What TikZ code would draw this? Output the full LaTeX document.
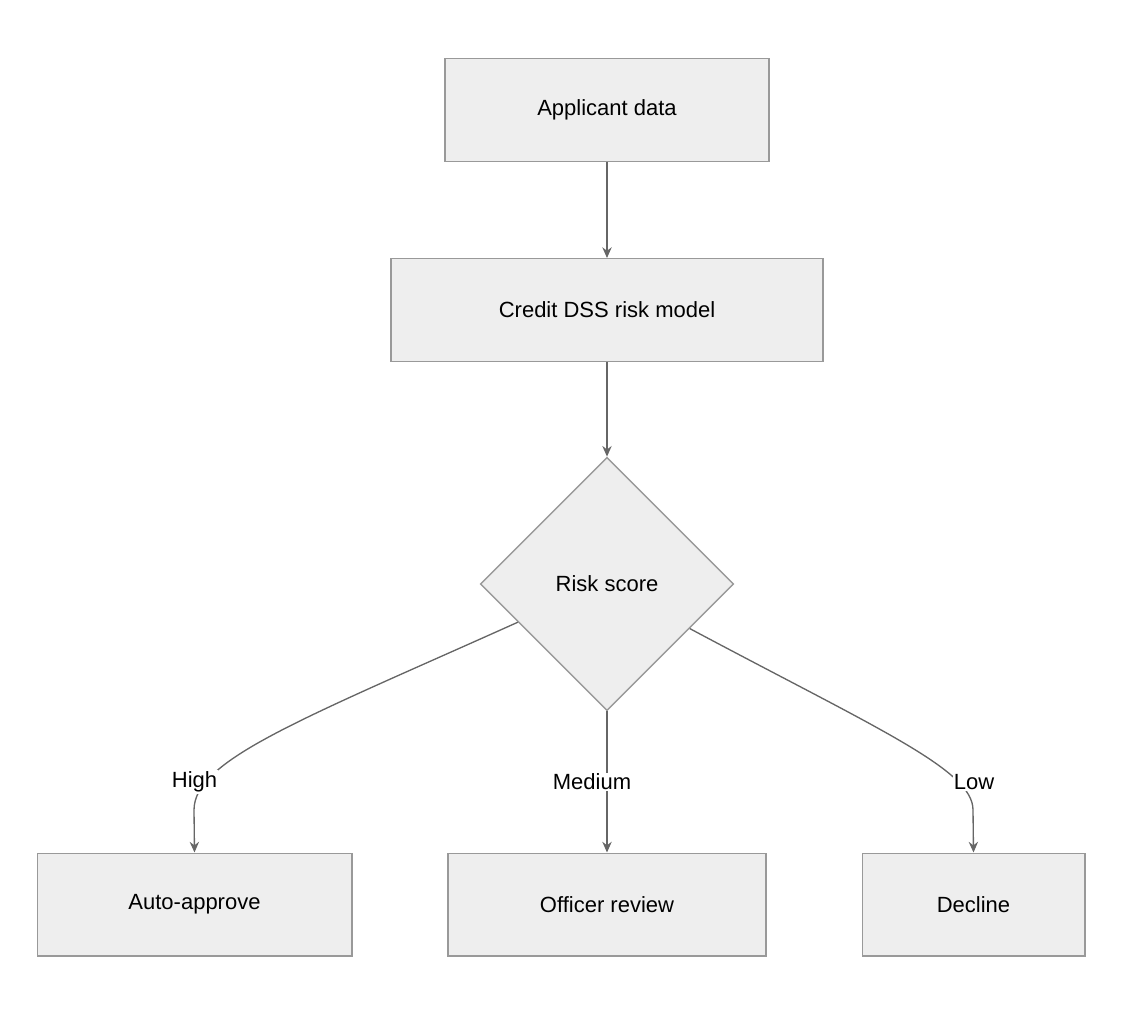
\documentclass[tikz,border=0pt]{standalone}
\usepackage{fontspec}
\setmainfont{Liberation Sans}
\usetikzlibrary{shapes.geometric}
\usetikzlibrary{arrows.meta}
\usetikzlibrary{calc}
\definecolor{boxfill}{HTML}{EEEEEE}
\definecolor{boxline}{HTML}{999999}
\definecolor{arrowline}{HTML}{666666}
\begin{document}
\begin{tikzpicture}[x=0.75pt,y=-0.75pt,
	box/.style={draw=boxline, fill=boxfill, line width=1pt, minimum height=77pt, inner sep=0pt, font=\fontsize{16.5}{20}\selectfont},
	decision/.style={diamond, aspect=1, draw=boxline, fill=boxfill, line width=1pt, minimum width=190pt, minimum height=190pt, inner sep=0pt, font=\fontsize{16.5}{20}\selectfont},
	flow/.style={draw=arrowline, line width=1pt, -{Stealth[length=8pt,width=7pt]}},
	lbl/.style={fill=white, inner sep=1pt, font=\fontsize{16.5}{20}\selectfont}]
		\useasboundingbox (0,0) rectangle (1124,1016);
		
		%boxes
		\node[box, minimum width=243pt] (applicant) at (607,110) {Applicant data};
		\node[box, minimum width=324pt] (model) at (607,310) {Credit DSS risk model};
		\node[decision] (risk) at (607,584) {Risk score};
		\node[box, minimum width=236pt] (approve) at (194.5,904.5) {Auto-approve};
		\node[box, minimum width=238.5pt] (review) at (607,904.5) {Officer review};
		\node[box, minimum width=167pt] (decline) at (973.5,904.5) {Decline};
		
		%connectors
		\draw[flow] (applicant) -- (model);
		\draw[flow] (model) -- (risk);
		\draw[flow] ($(risk.west)!0.3!(risk.south)$) .. controls (300,720) and (194,760) .. (194,810) -- (approve.north);
		\draw[flow] (risk.south) -- (review.north);
		\draw[flow] ($(risk.east)!0.35!(risk.south)$) .. controls (880,730) and (973,770) .. (973,810) -- (decline.north);
		
		%labels
		\node[lbl] (high) at (194.5,782) {High};
		\node[lbl] (medium) at (592,782) {Medium};
		\node[lbl] (low) at (974,782) {Low};
	\end{tikzpicture}
\end{document}
